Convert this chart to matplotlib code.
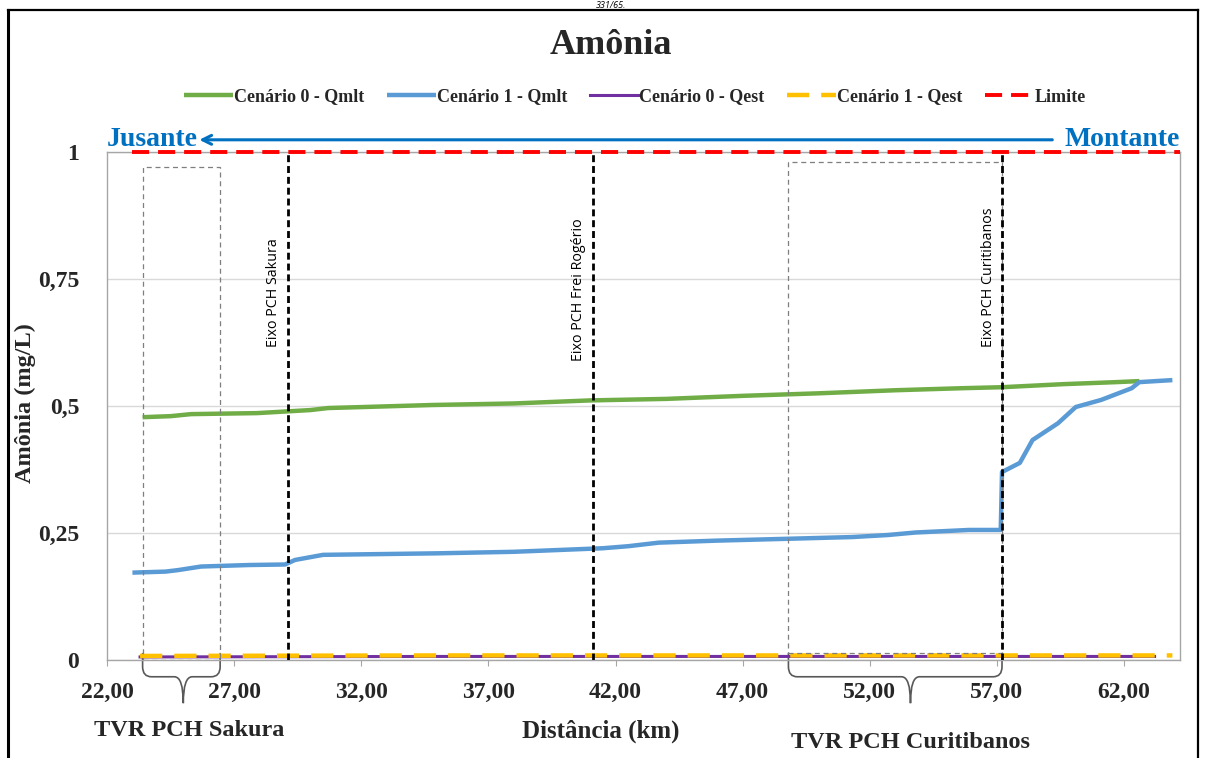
import matplotlib
matplotlib.use("Agg")
import matplotlib.pyplot as plt
from matplotlib.path import Path
from matplotlib.patches import PathPatch, Rectangle
from matplotlib.lines import Line2D
import matplotlib.transforms as mtransforms

# ---------------- data ----------------
green_km = [23.4, 24.5, 25.3, 27.9, 30.0, 30.7, 32.1, 34.8, 38.0, 41.0, 44.0, 47.0,
            50.0, 53.0, 55.6, 57.2, 59.6, 61.7, 62.6]
green_val = [0.478, 0.480, 0.484, 0.486, 0.492, 0.496, 0.498, 0.502, 0.505, 0.511, 0.514,
             0.520, 0.525, 0.531, 0.535, 0.537, 0.543, 0.547, 0.549]

blue_km = [23.0, 24.3, 24.8, 25.7, 27.6, 29.0, 29.4, 30.5, 35.0, 38.0, 40.0, 41.5, 42.5,
           43.7, 46.0, 48.3, 51.3, 52.7, 53.8, 55.9, 57.15, 57.2, 57.9, 58.4, 59.4, 60.1,
           61.1, 62.3, 62.6, 63.9]
blue_val = [0.172, 0.174, 0.177, 0.184, 0.187, 0.188, 0.197, 0.207, 0.210, 0.213, 0.217,
            0.220, 0.224, 0.231, 0.235, 0.238, 0.242, 0.246, 0.251, 0.256, 0.256, 0.370,
            0.388, 0.433, 0.466, 0.498, 0.512, 0.535, 0.547, 0.551]

purple_km = [23.3, 35.0, 50.0, 63.2]
purple_val = [0.006, 0.007, 0.007, 0.007]

yellow_km = [23.3, 35.0, 50.0, 63.9]
yellow_val = [0.008, 0.009, 0.009, 0.009]

limit_km = [23.0, 64.2]
limit_val = [1.0, 1.0]

dams_km = [29.1, 41.1, 57.2]
dams_labels = ["Eixo PCH Sakura", "Eixo PCH Frei Rogério", "Eixo PCH Curitibanos"]

series_labels = ["Cenário 0 - Qmlt", "Cenário 1 - Qmlt", "Cenário 0 - Qest",
                 "Cenário 1 - Qest", "Limite"]

x_ticks = [22, 27, 32, 37, 42, 47, 52, 57, 62]
x_ticklabels = ["22,00", "27,00", "32,00", "37,00", "42,00", "47,00", "52,00", "57,00", "62,00"]
y_ticks = [0, 0.25, 0.5, 0.75, 1]
y_ticklabels = ["0", "0,25", "0,5", "0,75", "1"]

tvr_sakura = (23.4, 26.45)
tvr_curitibanos = (48.8, 57.2)

# ---------------- style ----------------
SERIF = ["Liberation Serif", "DejaVu Serif"]
SANS = ["Open Sans", "DejaVu Sans"]
C_GREEN = "#70ad47"
C_BLUE = "#5b9bd5"
C_PURPLE = "#7030a0"
C_YELLOW = "#ffc000"
C_RED = "#ff0000"
C_ARROW = "#0070c0"
C_TEXT = "#262626"

W, H = 1206, 758
fig = plt.figure(figsize=(W / 100, H / 100), dpi=100)
ax = fig.add_axes([107 / W, 1 - 660 / H, (1180 - 107) / W, (660 - 152) / H])

ax.set_xlim(22, 64.2)
ax.set_ylim(0, 1)

ax.set_axisbelow(True)
ax.yaxis.grid(True, color="#d9d9d9", lw=1.0)
for s in ax.spines.values():
    s.set_color("#a6a6a6")
    s.set_linewidth(1.0)

# series
l1, = ax.plot(green_km, green_val, color=C_GREEN, lw=3.2, solid_capstyle="butt")
l2, = ax.plot(blue_km, blue_val, color=C_BLUE, lw=3.2, solid_capstyle="butt")
l3, = ax.plot(purple_km, purple_val, color=C_PURPLE, lw=2.2)
l4, = ax.plot(yellow_km, yellow_val, color=C_YELLOW, lw=3.2, dashes=(5.0, 2.7))
l5, = ax.plot(limit_km, limit_val, color=C_RED, lw=2.8, dashes=(4.4, 2.3), clip_on=False,
              zorder=6)

# dam axes lines and labels
dam_label_y = [0.724, 0.728, 0.753]
for xk, lab, yl in zip(dams_km, dams_labels, dam_label_y):
    ax.plot([xk, xk], [0, 1], color="black", lw=2.0, dashes=(2.5, 1.4), zorder=4)
    ax.text(xk - 0.55, yl, lab, rotation=90, ha="center", va="center",
            fontsize=10.3, family=SANS, color="black")

# TVR dashed boxes
ax.add_patch(Rectangle((tvr_sakura[0], 0.0), tvr_sakura[1] - tvr_sakura[0], 0.970,
                       fill=False, ec="#7f7f7f", lw=0.9, ls=(0, (4, 3)), zorder=3))
ax.add_patch(Rectangle((tvr_curitibanos[0], 0.014), tvr_curitibanos[1] - tvr_curitibanos[0], 0.966,
                       fill=False, ec="#7f7f7f", lw=0.9, ls=(0, (4, 3)), zorder=3))

# braces below the axis
trans = mtransforms.blended_transform_factory(ax.transData, ax.transAxes)


def brace(x0, x1, xt):
    top = 0.014
    h = -0.033
    tip = -0.085
    c = 0.02
    cx = 0.35
    verts = [(x0, top), (x0, h + c), (x0, h), (x0 + cx, h), (xt - cx, h), (xt, h), (xt, tip),
             (xt, h), (xt + cx, h), (x1 - cx, h), (x1, h), (x1, h + c), (x1, top)]
    codes = [Path.MOVETO, Path.LINETO, Path.CURVE3, Path.CURVE3, Path.LINETO, Path.CURVE3,
             Path.CURVE3, Path.CURVE3, Path.CURVE3, Path.LINETO, Path.CURVE3, Path.CURVE3,
             Path.LINETO]
    ax.add_patch(PathPatch(Path(verts, codes), fill=False, ec="#595959", lw=1.2,
                           transform=trans, clip_on=False))


brace(tvr_sakura[0], tvr_sakura[1], 25.0)
brace(tvr_curitibanos[0], tvr_curitibanos[1], 53.6)

# ticks
ax.set_xticks(x_ticks)
ax.set_xticklabels(x_ticklabels)
ax.set_yticks(y_ticks)
ax.set_yticklabels(y_ticklabels)
ax.tick_params(axis="x", length=4, color="#a6a6a6", pad=12)
ax.tick_params(axis="y", length=0, pad=20)
for t in ax.get_xticklabels() + ax.get_yticklabels():
    t.set_fontfamily(SERIF)
    t.set_fontweight("bold")
    t.set_fontsize(17)
    t.set_color(C_TEXT)

# title and labels
fig.text(611 / W, 1 - 45 / H, "Amônia", ha="center", va="center", fontsize=26,
         family=SERIF, weight="bold", color=C_TEXT)
fig.text(25 / W, 1 - 403 / H, "Amônia (mg/L)", ha="center", va="center", rotation=90,
         fontsize=17.5, family=SERIF, weight="bold", color=C_TEXT)
fig.text(601 / W, 1 - 731 / H, "Distância (km)", ha="center", va="center",
         fontsize=18, family=SERIF, weight="bold", color=C_TEXT)
fig.text(189 / W, 1 - 730 / H, "TVR PCH Sakura", ha="center", va="center",
         fontsize=17.5, family=SERIF, weight="bold", color=C_TEXT)
fig.text(911 / W, 1 - 743 / H, "TVR PCH Curitibanos", ha="center", va="center",
         fontsize=17.5, family=SERIF, weight="bold", color=C_TEXT)

# Jusante / Montante arrow
ax.text(0.0, 1.024, "Jusante", transform=ax.transAxes, ha="left", va="center",
        fontsize=20, family=SERIF, weight="bold", color=C_ARROW)
ax.text(0.9995, 1.024, "Montante", transform=ax.transAxes, ha="right", va="center",
        fontsize=20, family=SERIF, weight="bold", color=C_ARROW)
ax.annotate("", xy=(0.086, 1.024), xytext=(0.881, 1.024), xycoords="axes fraction",
            arrowprops=dict(arrowstyle="->", color=C_ARROW, lw=2.2, mutation_scale=16,
                            shrinkA=0, shrinkB=0))

# legend
leg = fig.legend([l1, l2, l3, l4, l5], series_labels, loc="center", ncol=5,
                 bbox_to_anchor=(635 / W, 1 - 97 / H), frameon=False,
                 handlelength=2.7, handletextpad=0.05, columnspacing=1.25,
                 prop=dict(family=SERIF, weight="bold", size=13))
for t in leg.get_texts():
    t.set_color(C_TEXT)

# page frame and clipped header
fig.add_artist(Line2D([8 / W, 8 / W], [0, 1 - 10 / H], color="black", lw=2.2))
fig.add_artist(Line2D([8 / W, 1198 / W], [1 - 10 / H, 1 - 10 / H], color="black", lw=1.6))
fig.add_artist(Line2D([1198 / W, 1198 / W], [0, 1 - 10 / H], color="black", lw=1.6))
fig.text(611 / W, 1 - 0.5 / H, "331/65.", ha="center", va="top", fontsize=6.5,
         family=SANS, style="italic", color="black")

fig.savefig("out.png", dpi=100)
